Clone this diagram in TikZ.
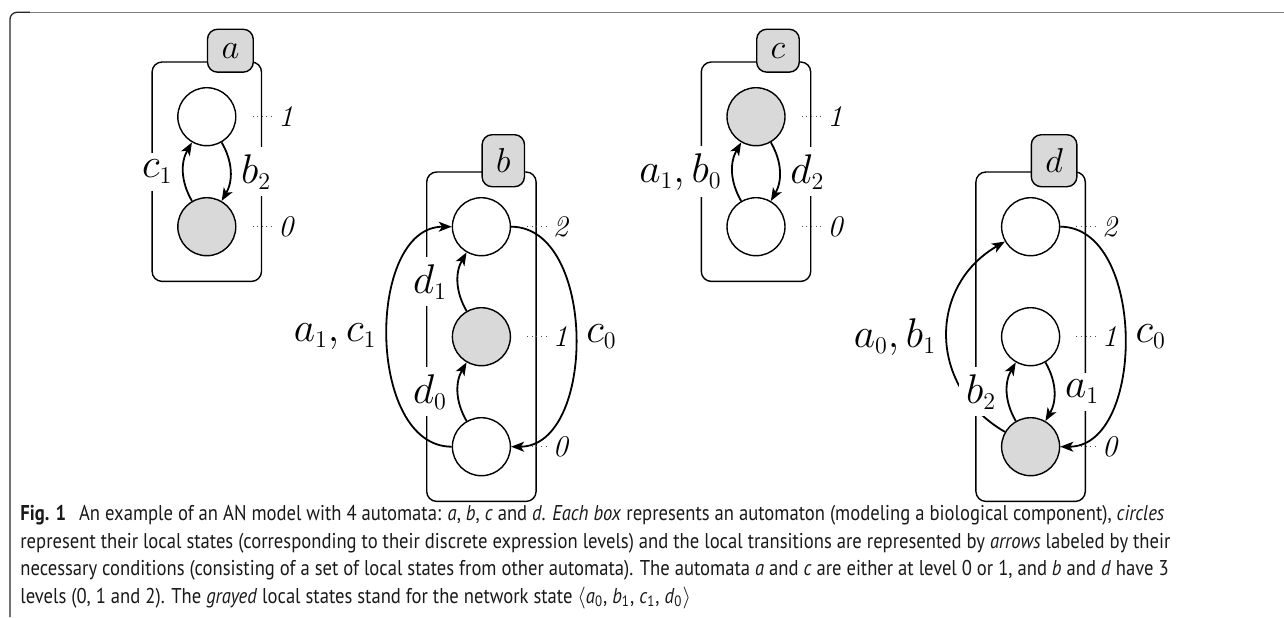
\documentclass[tikz,border=0pt]{standalone}
\usepackage{amsmath,amssymb}
\usepackage{fontspec}
\newfontfamily\capfont[FakeStretch=0.87]{PT Sans}
\usepackage{tikz}
\usetikzlibrary{automata,positioning}
\usetikzlibrary{fit}
\usetikzlibrary{arrows.meta}
\DeclareMathSizes{20.74}{20.74}{12}{10}

\begin{document}
\begin{tikzpicture}[x=0.5pt,y=-0.5pt,node distance=55pt,on grid,auto,
    >={Stealth[length=6.5pt,width=5pt,inset=1.7pt]}]

  \tikzset{every state/.style={draw,line width=0.7pt,minimum size=29pt,inner sep=0pt}}
  \tikzset{grayed/.style={fill=gray!30}}
  \tikzset{autbox/.style={draw,rectangle,rounded corners=5pt,line width=0.7pt,inner sep=12.5pt}}
  \tikzset{autname/.style={draw,rectangle,rounded corners=5pt,line width=0.7pt,fill=gray!30,
      inner sep=7pt,anchor=west,font=\fontsize{16}{19}\selectfont}}
  \tikzset{levnum/.style={inner sep=3pt,font=\fontsize{15}{18}\selectfont\itshape}}
  \tikzset{leveldots/.style={line width=0.5pt,dash pattern=on 0.5pt off 1.8pt,black!70,shorten >=7.5pt}}
  \tikzset{cond/.style={fill=white,inner sep=3.5pt,outer sep=2pt,font=\fontsize{20.74}{24}\selectfont}}
  \tikzset{trans/.style={line width=0.9pt}}
  \tikzset{caption/.style={anchor=north west,align=left,inner sep=0pt,text=black!90,
      font=\capfont\fontsize{10.7}{13.75}\selectfont}}

  \useasboundingbox (0,0) rectangle (1284,617);

  % frame of the figure
  \draw[line width=0.65pt,black!85,rounded corners=3.5pt] (10,617) -- (10,12.3) -- (30,12.3);
  \draw[line width=0.65pt,black!50] (30,12.3) -- (1284,12.3);

  % local states
  \node[state] (a1) at (206.8,116.7) {};
  \node[state,grayed] (a0) [below = of a1] {};
  \node[state] (b2) [below right = 55pt and 137.3pt of a1] {};
  \node[state,grayed] (b1) [below = of b2] {};
  \node[state] (b0) [below = of b1] {};
  \node[state,grayed] (c1) [right = 274.6pt of a1] {};
  \node[state] (c0) [below = of c1] {};
  \node[state] (d2) [right = 274.6pt of b2] {};
  \node[state] (d1) [below = of d2] {};
  \node[state,grayed] (d0) [below = of d1] {};

  % automata
  \node[autbox,fit=(a1)(a0)] (abox) {};
  \node[autbox,fit=(b2)(b0)] (bbox) {};
  \node[autbox,fit=(c1)(c0)] (cbox) {};
  \node[autbox,fit=(d2)(d0)] (dbox) {};
  \node[autname] (aname) at ([yshift=5.3pt]abox.north -| a1) {$a$};
  \node[autname] (bname) at ([yshift=5.3pt]bbox.north -| b2) {$b$};
  \node[autname] (cname) at ([yshift=5.3pt]cbox.north -| c1) {$c$};
  \node[autname] (dname) at ([yshift=5.3pt]dbox.north -| d2) {$d$};

  % levels
  \node[levnum] (a1l) [right = 39.5pt of a1] {1};
  \node[levnum] (a0l) [right = 39.5pt of a0] {0};
  \node[levnum] (b2l) [right = 39.5pt of b2] {2};
  \node[levnum] (b1l) [right = 39.5pt of b1] {1};
  \node[levnum] (b0l) [right = 39.5pt of b0] {0};
  \node[levnum] (c1l) [right = 39.5pt of c1] {1};
  \node[levnum] (c0l) [right = 39.5pt of c0] {0};
  \node[levnum] (d2l) [right = 39.5pt of d2] {2};
  \node[levnum] (d1l) [right = 39.5pt of d1] {1};
  \node[levnum] (d0l) [right = 39.5pt of d0] {0};
  \foreach \s in {a1,a0,b2,b1,b0,c1,c0,d2,d1,d0}
    \draw[leveldots] (\s l) -- (\s);

  \path[->,trans]
  (a0)
  edge [bend left=30] node [cond] {$c_1$} (a1)
  (a1)
  edge [bend left=30] node [cond] {$b_2$} (a0)
  (b0)
  edge [out=180,in=180] node [cond] {$a_1,c_1$} (b2)
  edge [bend left=30] node [cond] {$d_0$} (b1)
  (b1)
  edge [bend left=30] node [cond] {$d_1$} (b2)
  (b2)
  edge [out=0,in=0] node [cond] {$c_0$} (b0)
  (c0)
  edge [bend left=30] node [cond] {$a_1,b_0$} (c1)
  (c1)
  edge [bend left=30] node [cond] {$d_2$} (c0)
  (d0)
  edge [bend left=60,looseness=1.2] node [cond] {$a_0,b_1$} (d2)
  edge [bend left=30] node [cond] {$b_2$} (d1)
  (d1)
  edge [bend left=30] node [cond] {$a_1$} (d0)
  (d2)
  edge [out=0,in=0] node [cond] {$c_0$} (d0)
  ;

  \node[caption] (cap) at (20,505) {%
    \textbf{Fig. 1}\hspace{0.6em}An example of an AN model with 4 automata: \textit{a}, \textit{b}, \textit{c} and \textit{d}. \textit{Each box} represents an automaton (modeling a biological component), \textit{circles}\\
    represent their local states (corresponding to their discrete expression levels) and the local transitions are represented by \textit{arrows} labeled by their\\
    necessary conditions (consisting of a set of local states from other automata). The automata \textit{a} and \textit{c} are either at level 0 or 1, and \textit{b} and \textit{d} have 3\\
    levels (0, 1 and 2). The \textit{grayed} local states stand for the network state $\langle$\textit{a}\textsubscript{0}, \textit{b}\textsubscript{1}, \textit{c}\textsubscript{1}, \textit{d}\textsubscript{0}$\rangle$};
\end{tikzpicture}
\end{document}
